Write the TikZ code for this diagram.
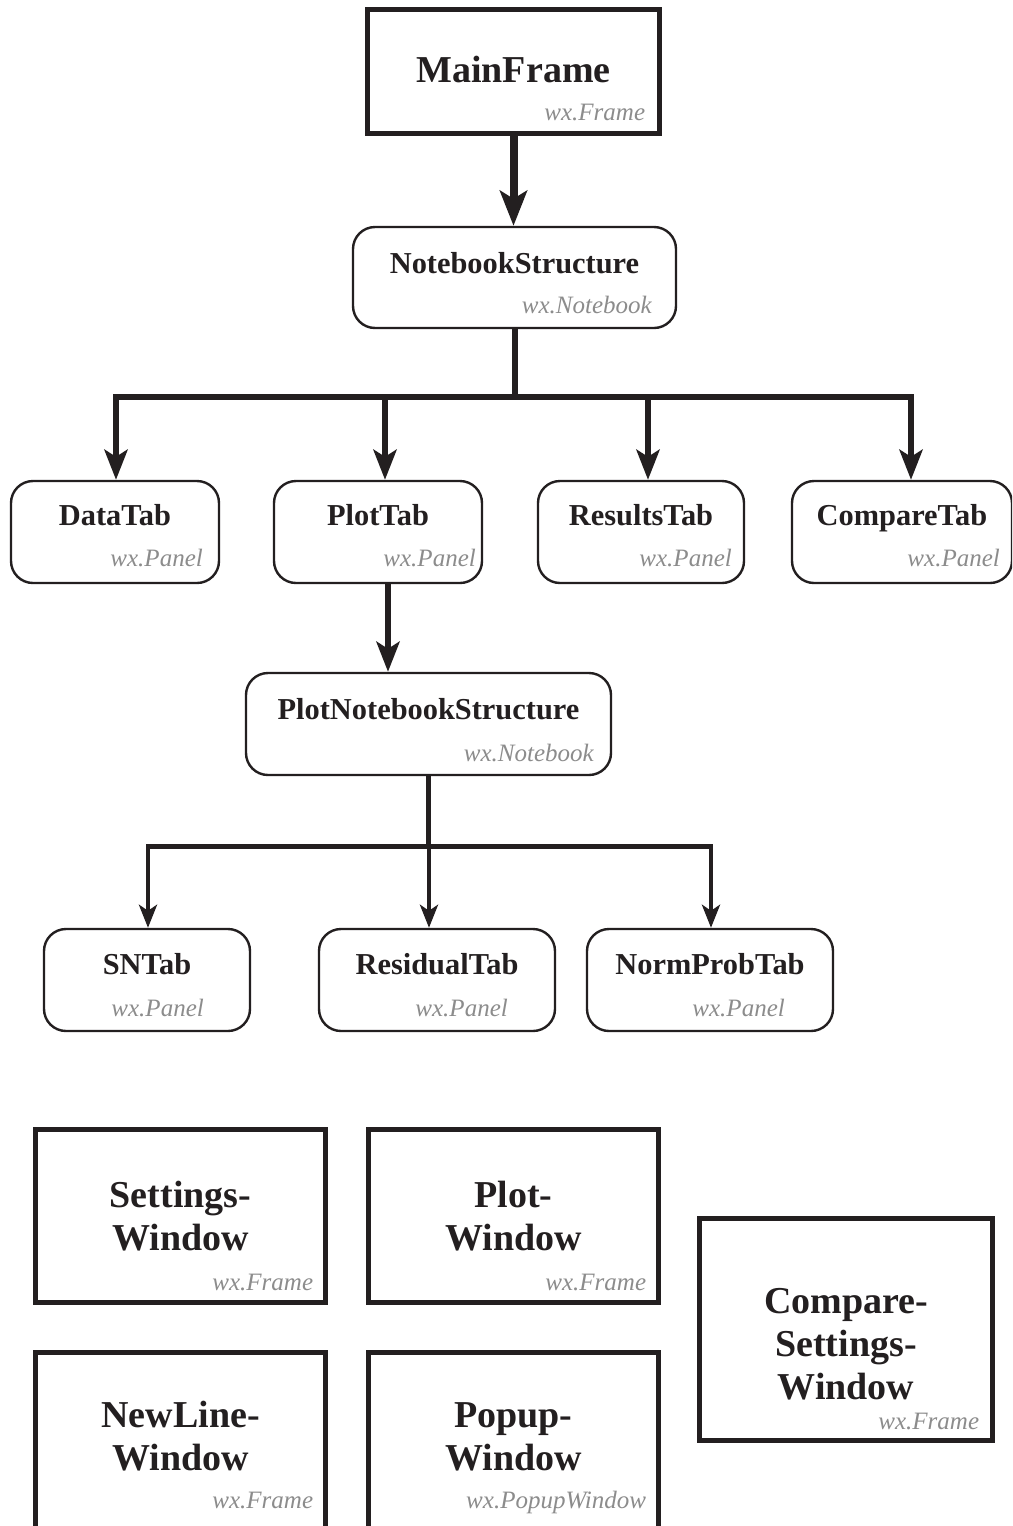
\documentclass[tikz,border=0pt]{standalone}
\usepackage{fontspec}
\setmainfont{Liberation Serif}
\usetikzlibrary{arrows.meta, positioning, calc}
\definecolor{inkdark}{HTML}{231F20}
\definecolor{kindgray}{HTML}{8C8C8C}

\begin{document}
\begin{tikzpicture}[x=0.5pt, y=-0.5pt,
  framebox/.style={draw=inkdark, line width=2.5pt, inner sep=0pt},
  tabbox/.style={draw=inkdark, line width=1.2pt, rounded corners=11pt, inner sep=0pt},
  tabtitle/.style={text=inkdark, font=\fontsize{15.2}{17}\selectfont\bfseries, anchor=base, inner sep=0pt},
  wintitle/.style={text=inkdark, font=\fontsize{19}{21.5}\selectfont\bfseries, align=center, inner sep=0pt},
  kind/.style={text=kindgray, font=\fontsize{12.5}{14}\selectfont\itshape, anchor=base east, inner sep=0pt},
  trunk/.style={draw=inkdark, line width=4pt, -{Stealth[length=17.5pt, width=13.5pt, inset=4pt]}},
  branch/.style={draw=inkdark, line width=3pt},
  branchtip/.style={-{Stealth[length=15pt, width=11.5pt, inset=3.5pt]}},
  twig/.style={draw=inkdark, line width=2.4pt},
  twigtip/.style={-{Stealth[length=11.5pt, width=9pt, inset=3pt]}}]

  % Page frame
  \useasboundingbox (0,0) rectangle (1012,1526);
  \fill[white] (0,0) rectangle (1012,1526);
  \clip (0,0) rectangle (1012,1526);

  % Main frame
  \node[framebox, minimum width=146pt, minimum height=62pt] (main) at (513.5,71.5) {};
  \node[wintitle, anchor=base] (maintitle) at ($(main.north)+(0,75)$) {MainFrame};
  \node[kind] (mainkind) at ($(main.south east)+(-16.5,-15.5)$) {wx.Frame};

  % Notebook
  \node[tabbox, minimum width=161.5pt, minimum height=50.5pt] (nb) at (514.5,277.5) {};
  \node[tabtitle] (nbtitle) at ($(nb.north)+(0,48)$) {NotebookStructure};
  \node[kind] (nbkind) at ($(nb.south east)+(-25,-16)$) {wx.Notebook};

  % Tabs of the notebook
  \foreach \tab/\cx/\w/\label/\dx in {data/115/104/DataTab/-17, plot/378/104/PlotTab/-7,
      results/641/103/ResultsTab/-13, compare/902/110/CompareTab/-13} {
    \node[tabbox, minimum width=\w pt, minimum height=51pt] (\tab) at (\cx,532) {};
    \node[tabtitle] (\tab title) at ($(\tab.north)+(0,46)$) {\label};
    \node[kind] (\tab kind) at ($(\tab.south east)+(\dx,-18)$) {wx.Panel};
  }

  % Plot notebook
  \node[tabbox, minimum width=182.5pt, minimum height=51pt] (pns) at (428.5,724) {};
  \node[tabtitle] (pnstitle) at ($(pns.north)+(0,48)$) {PlotNotebookStructure};
  \node[kind] (pnskind) at ($(pns.south east)+(-18,-15)$) {wx.Notebook};

  % Tabs of the plot notebook
  \foreach \tab/\cx/\w/\label/\dx in {sn/147/103/SNTab/-47, resid/437/118/ResidualTab/-48,
      norm/710/123/NormProbTab/-49} {
    \node[tabbox, minimum width=\w pt, minimum height=51pt] (\tab) at (\cx,980) {};
    \node[tabtitle] (\tab title) at ($(\tab.north)+(0,47)$) {\label};
    \node[kind] (\tab kind) at ($(\tab.south east)+(\dx,-16)$) {wx.Panel};
  }

  % Connectors
  \draw[trunk] (main.south) -- (main.south |- nb.north);
  \coordinate (fork) at ($(nb.south)+(0,68)$);
  \draw[branch] (nb.south) -- (fork);
  \foreach \tab/\dx in {data/1, plot/7, results/7, compare/9}
    \draw[branch, branchtip] (fork) -| ($(\tab.north)+(\dx,0)$);
  \coordinate (plotfoot) at ($(plot.south)+(10,0)$);
  \draw[branch, branchtip] (plotfoot) -- (plotfoot |- pns.north);
  \coordinate (fork2) at ($(pns.south)+(0,70)$);
  \draw[twig] (pns.south) -- (fork2);
  \foreach \tab/\dx in {sn/1, resid/-8, norm/1}
    \draw[twig, twigtip] (fork2) -| ($(\tab.north)+(\dx,0)$);

  % Separate windows
  \node[framebox, minimum width=145pt, minimum height=86.5pt] (settings) at (180.5,1216) {};
  \node[wintitle] (settingstitle) at (settings.center) {Settings-\\Window};
  \node[kind] (settingskind) at ($(settings.south east)+(-14.5,-14.5)$) {wx.Frame};

  \node[framebox, minimum width=145pt, minimum height=86.5pt] (plotwin) at (513.5,1216) {};
  \node[wintitle] (plotwintitle) at (plotwin.center) {Plot-\\Window};
  \node[kind] (plotwinkind) at ($(plotwin.south east)+(-14.5,-14.5)$) {wx.Frame};

  \node[framebox, minimum width=146.5pt, minimum height=111pt] (cmpwin) at (846,1329.5) {};
  \node[wintitle] (cmpwintitle) at ($(cmpwin.center)+(0,15)$) {Compare-\\Settings-\\Window};
  \node[kind] (cmpwinkind) at ($(cmpwin.south east)+(-15.5,-13.5)$) {wx.Frame};

  \node[framebox, minimum width=145pt, minimum height=89pt] (newline) at (180.5,1441.5) {};
  \node[wintitle] (newlinetitle) at ($(newline.north)+(0,86.5)$) {NewLine-\\Window};
  \node[kind] (newlinekind) at ($(newline.north east)+(-14.5,158.5)$) {wx.Frame};

  \node[framebox, minimum width=145pt, minimum height=89pt] (popup) at (513.5,1441.5) {};
  \node[wintitle] (popuptitle) at ($(popup.north)+(0,86.5)$) {Popup-\\Window};
  \node[kind] (popupkind) at ($(popup.north east)+(-14.5,158.5)$) {wx.PopupWindow};
\end{tikzpicture}
\end{document}
